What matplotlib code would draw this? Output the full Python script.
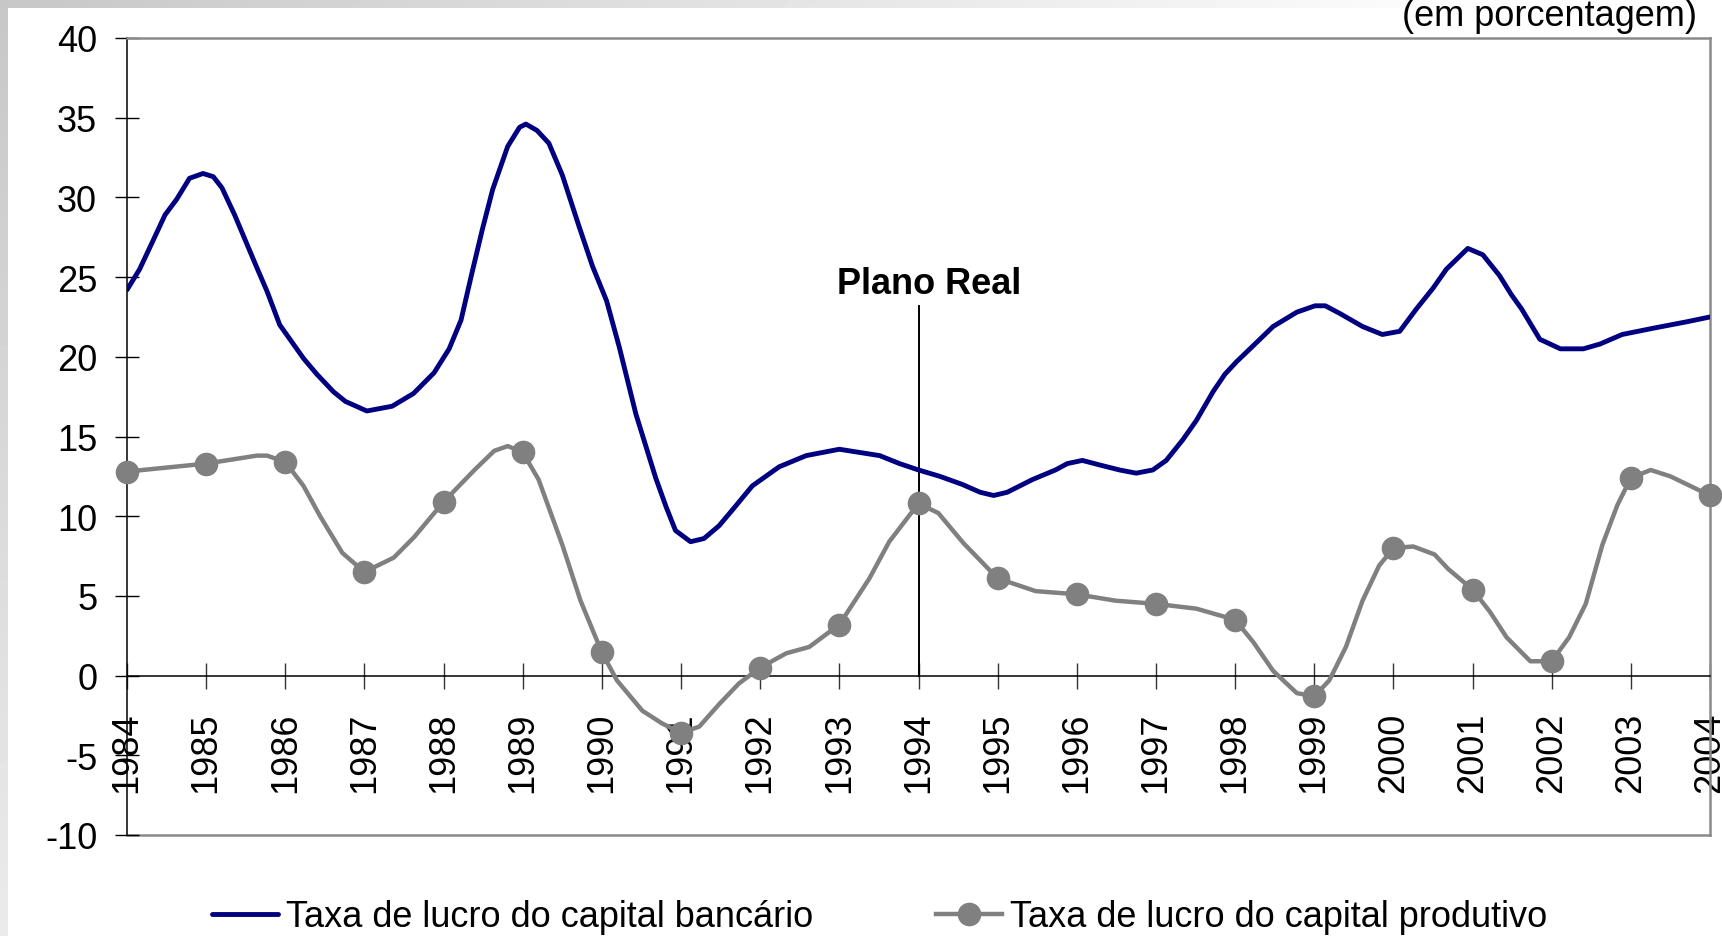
import numpy as np
import matplotlib
matplotlib.use("Agg")
import matplotlib.pyplot as plt
from matplotlib.patches import Rectangle

plt.rcParams['font.family'] = ['Liberation Sans', 'DejaVu Sans']

# ---- data ----
years = list(range(1984, 2005))
year_labels = [str(y) for y in years]
y_ticks = [-10, -5, 0, 5, 10, 15, 20, 25, 30, 35, 40]

bank_x = [1984.00, 1984.16, 1984.33, 1984.48, 1984.63, 1984.79, 1984.96, 1985.09, 1985.20, 1985.36,
          1985.64, 1985.77, 1985.93, 1986.23, 1986.40, 1986.61, 1986.76, 1987.03, 1987.35, 1987.62,
          1987.88, 1988.07, 1988.22, 1988.36, 1988.49, 1988.62, 1988.81, 1988.96, 1989.04, 1989.18,
          1989.33, 1989.50, 1989.71, 1989.88, 1990.06, 1990.22, 1990.43, 1990.68, 1990.81, 1990.93,
          1991.12, 1991.29, 1991.48, 1991.65, 1991.90, 1992.24, 1992.58, 1993.00, 1993.51, 1993.76,
          1994.00, 1994.27, 1994.55, 1994.78, 1994.95, 1995.12, 1995.44, 1995.73, 1995.88, 1996.07,
          1996.30, 1996.54, 1996.75, 1996.96, 1997.13, 1997.34, 1997.51, 1997.72, 1997.87, 1998.02,
          1998.23, 1998.48, 1998.78, 1999.01, 1999.14, 1999.33, 1999.61, 1999.86, 2000.08, 2000.29,
          2000.50, 2000.67, 2000.94, 2001.13, 2001.34, 2001.49, 2001.62, 2001.85, 2002.11, 2002.40,
          2002.61, 2002.89, 2003.29, 2003.71, 2004.00]
bank_y = [24.2, 25.5, 27.3, 28.9, 29.9, 31.2, 31.5, 31.3, 30.6, 28.9,
          25.6, 24.1, 22.0, 19.9, 18.9, 17.8, 17.2, 16.6, 16.9, 17.7,
          19.0, 20.5, 22.3, 25.3, 28.0, 30.5, 33.2, 34.4, 34.6, 34.2,
          33.4, 31.4, 28.2, 25.7, 23.5, 20.6, 16.4, 12.4, 10.6, 9.1,
          8.4, 8.6, 9.4, 10.4, 11.9, 13.1, 13.8, 14.2, 13.8, 13.3,
          12.9, 12.5, 12.0, 11.5, 11.3, 11.5, 12.3, 12.9, 13.3, 13.5,
          13.2, 12.9, 12.7, 12.9, 13.5, 14.8, 16.0, 17.8, 18.9, 19.7,
          20.7, 21.9, 22.8, 23.2, 23.2, 22.7, 21.9, 21.4, 21.6, 23.0,
          24.3, 25.5, 26.8, 26.4, 25.1, 23.9, 23.0, 21.1, 20.5, 20.5,
          20.8, 21.4, 21.8, 22.2, 22.5]

prod_x = [1984.00, 1985.00, 1985.64, 1985.77, 1986.00, 1986.23, 1986.44, 1986.72, 1987.00, 1987.37,
          1987.63, 1988.00, 1988.39, 1988.64, 1988.81, 1989.00, 1989.20, 1989.50, 1989.73, 1990.00,
          1990.19, 1990.51, 1990.76, 1991.00, 1991.23, 1991.48, 1991.73, 1992.00, 1992.33, 1992.62,
          1993.00, 1993.38, 1993.63, 1994.00, 1994.25, 1994.57, 1995.00, 1995.48, 1996.00, 1996.49,
          1997.00, 1997.51, 1998.00, 1998.23, 1998.48, 1998.78, 1999.00, 1999.19, 1999.40, 1999.61,
          1999.82, 2000.00, 2000.25, 2000.52, 2000.69, 2001.00, 2001.22, 2001.43, 2001.73, 2002.00,
          2002.22, 2002.43, 2002.64, 2002.83, 2003.00, 2003.25, 2003.50, 2004.00]
prod_y = [12.8, 13.3, 13.8, 13.8, 13.4, 11.9, 10.0, 7.7, 6.5, 7.4,
          8.7, 10.9, 12.9, 14.1, 14.4, 14.0, 12.3, 8.2, 4.7, 1.45,
          -0.3, -2.2, -3.0, -3.6, -3.2, -1.8, -0.5, 0.5, 1.4, 1.8,
          3.2, 6.1, 8.4, 10.8, 10.2, 8.3, 6.1, 5.3, 5.1, 4.7,
          4.5, 4.2, 3.5, 2.1, 0.3, -1.1, -1.3, -0.3, 1.8, 4.7,
          6.9, 8.0, 8.1, 7.6, 6.7, 5.4, 4.0, 2.4, 0.9, 0.9,
          2.4, 4.5, 8.2, 10.7, 12.4, 12.9, 12.5, 11.3]

plano_real_year = 1994
plano_real_top = 23.2

label_bank = "Taxa de lucro do capital bancário"
label_prod = "Taxa de lucro do capital produtivo"
units_text = "(em porcentagem)"
event_text = "Plano Real"

# ---- figure ----
W, H = 1722, 937
fig = plt.figure(figsize=(W / 100, H / 100), dpi=100)

# gray gradient frame
bg = fig.add_axes([0, 0, 1, 1], zorder=-10)
gx = np.linspace(0, 1, 400)[None, :]
gy = np.linspace(0, 1, 200)[:, None]
grad = np.clip(0.78 + 0.2 * gx * (W / 1378) + 0.14 * gy, 0, 1)
bg.imshow(grad, extent=[0, 1, 1, 0], aspect='auto', cmap='gray', vmin=0, vmax=1)
bg.add_patch(Rectangle((8 / W, 0), 1, 1 - 9 / H, transform=bg.transAxes,
                       facecolor='white', edgecolor='none'))
bg.set_xlim(0, 1)
bg.set_ylim(1, 0)
bg.axis('off')

left, right = 127 / W, 1710 / W
top, bottom = 1 - 39 / H, 1 - 836 / H
ax = fig.add_axes([left, bottom, right - left, top - bottom])
ax.patch.set_visible(False)
ax.set_xlim(1984, 2004)
ax.set_ylim(-10, 40)

ax.spines['bottom'].set_position(('data', 0))
ax.spines['bottom'].set_color('black')
ax.spines['bottom'].set_linewidth(1.1)
ax.spines['left'].set_color('black')
ax.spines['left'].set_linewidth(1.1)
for s in ('top', 'right'):
    ax.spines[s].set_color('#8a8a8a')
    ax.spines[s].set_linewidth(1.8)
ax.axhline(-10, color='#8a8a8a', lw=1.8, clip_on=False, zorder=1)

ax.set_xticks(years)
ax.set_xticklabels(year_labels, rotation=90, fontsize=26)
ax.tick_params(axis='x', direction='inout', length=19.4, width=1.0, color='#333333', pad=16)
ax.set_yticks(y_ticks)
ax.set_yticklabels([str(v) for v in y_ticks], fontsize=26)
ax.tick_params(axis='y', direction='inout', length=17, width=1.0, color='black', pad=13)

# series
ax.plot(bank_x, bank_y, color='#000080', lw=3.5, solid_joinstyle='round',
        solid_capstyle='round', label=label_bank, zorder=3)
mark_idx = [i for i, x in enumerate(prod_x) if abs(x - round(x)) < 1e-9]
ax.plot(prod_x, prod_y, color='#808080', lw=3.2, marker='o', markevery=mark_idx,
        markersize=16, markerfacecolor='#808080', markeredgecolor='#808080',
        solid_joinstyle='round', label=label_prod, zorder=3, clip_on=False)

# Plano Real marker
ax.plot([plano_real_year, plano_real_year], [0, plano_real_top], color='black', lw=1.4, zorder=2)
ax.text(1994.14, 24.0, event_text, fontsize=26, fontweight='bold', ha='center', va='baseline')

fig.text(1697 / W, 1 - 26 / H, units_text, fontsize=26, ha='right', va='baseline')

fig.legend(loc='center', bbox_to_anchor=(0.511, 0.0203), ncol=2, frameon=False,
           fontsize=26, handlelength=1.83, handletextpad=0.22, columnspacing=3.4,
           borderpad=0, borderaxespad=0)

fig.savefig('out.png', dpi=100)
